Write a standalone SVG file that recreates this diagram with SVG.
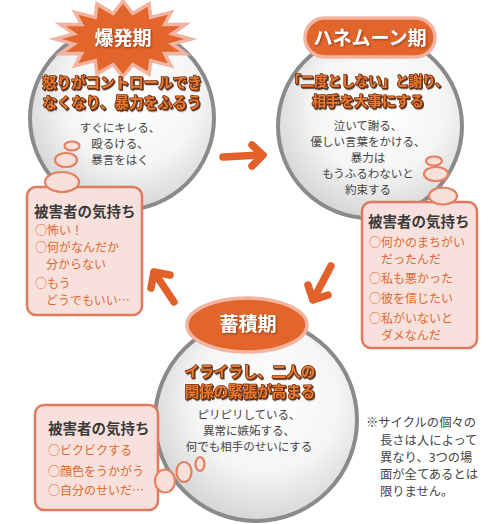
<svg xmlns="http://www.w3.org/2000/svg" width="503" height="524" viewBox="0 0 503 524">
<defs>
<radialGradient id="cg" cx="55%" cy="40%" r="60%">
<stop offset="0" stop-color="#ffffff"/>
<stop offset="0.6" stop-color="#f5f5f5"/>
<stop offset="1" stop-color="#d6d6d6"/>
</radialGradient>
<filter id="sh" x="-10%" y="-10%" width="130%" height="140%">
<feDropShadow dx="1" dy="1.2" stdDeviation="0.6" flood-color="#4a2410" flood-opacity="0.9"/>
</filter>
<filter id="tsh" x="-10%" y="-10%" width="130%" height="140%">
<feDropShadow dx="1" dy="1" stdDeviation="0.8" flood-color="#7a2e0c" flood-opacity="0.8"/>
</filter>
</defs>
<style>
text{font-family:"Noto Sans CJK JP","Noto Sans",sans-serif}
.circ{fill:url(#cg);stroke:#8a8a8a;stroke-width:4}
.lab{fill:#e2652b;stroke:#f2b3a0;stroke-width:3.5}
.ltxt{fill:#ffffff;font-weight:bold;text-anchor:middle;font-size:19px}
.head{fill:#ea7a32;font-weight:bold;text-anchor:middle;stroke:#6e3214;stroke-width:1.6;paint-order:stroke;stroke-linejoin:round}
.body{fill:#444444;text-anchor:middle;font-size:11.5px}
.box{fill:#f8e1dc;stroke:#e07a5c;stroke-width:2.5}
.bub{fill:#f7e0da;stroke:#e4805f;stroke-width:2.2}
.bt{fill:#3a3a3a;font-weight:bold;font-size:14.5px}
.it{fill:#e0682e;font-size:12px}
.arr{fill:none;stroke:#e2602a;stroke-width:7.5;stroke-linecap:round;stroke-linejoin:round}
.note{fill:#444444;font-size:12.3px}
</style>

<g id="explosion">
<circle class="circ" cx="122" cy="118" r="92"/>
<polygon class="lab" points="191,39 172.1,44.1 185.8,53.6 164.6,53.5 171.1,65.9 150.8,60.6 149,74.1 132.8,64.5 123,77 113.2,64.5 97,74.1 95.2,60.6 74.9,65.9 81.5,53.5 60.2,53.6 74,44.1 55,39 74,33.9 60.2,24.4 81.5,24.5 74.9,12.1 95.2,17.4 97,3.9 113.2,13.5 123,1 132.8,13.5 149,3.9 150.8,17.4 171.1,12.1 164.6,24.5 185.8,24.4 172.1,33.9"/>
<text class="ltxt" x="123" y="45" filter="url(#tsh)">爆発期</text>
<text class="head" x="122" y="88" font-size="14.5px" filter="url(#sh)">怒りがコントロールでき</text>
<text class="head" x="122" y="108" font-size="14.5px" filter="url(#sh)">なくなり、暴力をふるう</text>
<text class="body" x="120" y="132">すぐにキレる、</text>
<text class="body" x="120" y="148">殴るける、</text>
<text class="body" x="120" y="164">暴言をはく</text>
</g>

<g id="honeymoon">
<circle class="circ" cx="370" cy="126" r="92"/>
<rect class="lab" x="305" y="18" width="130" height="39" rx="19.5"/>
<text class="ltxt" x="370" y="45" font-size="19px" filter="url(#tsh)">ハネムーン期</text>
<text class="head" x="368" y="86" font-size="13.5px" filter="url(#sh)">「二度としない」と謝り、</text>
<text class="head" x="368" y="106" font-size="14px" filter="url(#sh)">相手を大事にする</text>
<text class="body" x="368" y="130">泣いて謝る、</text>
<text class="body" x="368" y="146">優しい言葉をかける、</text>
<text class="body" x="368" y="162">暴力は</text>
<text class="body" x="368" y="178">もうふるわないと</text>
<text class="body" x="368" y="194">約束する</text>
</g>

<g id="accumulation">
<circle class="circ" cx="256" cy="420" r="101"/>
<ellipse class="lab" cx="247" cy="325" rx="60" ry="27"/>
<text class="ltxt" x="248" y="331" filter="url(#tsh)">蓄積期</text>
<text class="head" x="250" y="377" font-size="14.5px" filter="url(#sh)">イライラし、二人の</text>
<text class="head" x="250" y="397" font-size="14.5px" filter="url(#sh)">関係の緊張が高まる</text>
<text class="body" x="249" y="419" font-size="12.3px">ピリピリしている、</text>
<text class="body" x="249" y="435" font-size="12.3px">異常に嫉妬する、</text>
<text class="body" x="249" y="451" font-size="12.3px">何でも相手のせいにする</text>
</g>

<g id="feelings-explosion">
<ellipse class="bub" cx="72" cy="146" rx="7.5" ry="4.5"/>
<ellipse class="bub" cx="66" cy="160" rx="11" ry="7"/>
<rect class="box" x="27" y="187" width="115" height="128" rx="9"/>
<ellipse class="bub" cx="62" cy="182" rx="17" ry="10"/>
<text class="bt" x="34" y="217">被害者の気持ち</text>
<text class="it" x="35" y="235">○怖い！</text>
<text class="it" x="35" y="252">○何がなんだか</text>
<text class="it" x="46" y="269">分からない</text>
<text class="it" x="35" y="288">○もう</text>
<text class="it" x="46" y="305">どうでもいい…</text>
</g>

<g id="feelings-honeymoon">
<ellipse class="bub" cx="434" cy="161" rx="8" ry="4.5"/>
<ellipse class="bub" cx="436" cy="174" rx="12" ry="7"/>
<rect class="box" x="362" y="202" width="115" height="146" rx="9"/>
<ellipse class="bub" cx="443" cy="196" rx="14" ry="8.5"/>
<text class="bt" x="368" y="227">被害者の気持ち</text>
<text class="it" x="369" y="247">○何かのまちがい</text>
<text class="it" x="381" y="264">だったんだ</text>
<text class="it" x="369" y="283">○私も悪かった</text>
<text class="it" x="369" y="303">○彼を信じたい</text>
<text class="it" x="369" y="323">○私がいないと</text>
<text class="it" x="381" y="340">ダメなんだ</text>
</g>

<g id="feelings-accumulation">
<rect class="box" x="35" y="405" width="123" height="105" rx="9"/>
<ellipse class="bub" cx="165" cy="481" rx="10" ry="11.5"/>
<ellipse class="bub" cx="184" cy="472" rx="7.5" ry="10"/>
<ellipse class="bub" cx="200" cy="464" rx="4.5" ry="7"/>
<text class="bt" x="48" y="434">被害者の気持ち</text>
<text class="it" x="48" y="455">○ビクビクする</text>
<text class="it" x="48" y="476">○顔色をうかがう</text>
<text class="it" x="48" y="495">○自分のせいだ…</text>
</g>

<g id="connectors">
<path class="arr" d="M223,157 L262,155 M252,145 L263,155 L252,166"/>
<path class="arr" d="M331,266 L313,300 M308,285 L313,300 L328,295"/>
<path class="arr" d="M174,302 L154,272 M151,288 L154,272 L170,275"/>
</g>

<g id="note">
<text class="note" x="366" y="427">※サイクルの個々の</text>
<text class="note" x="380" y="445">長さは人によって</text>
<text class="note" x="380" y="462">異なり、3つの場</text>
<text class="note" x="380" y="479">面が全てあるとは</text>
<text class="note" x="380" y="496">限りません。</text>
</g>
</svg>
